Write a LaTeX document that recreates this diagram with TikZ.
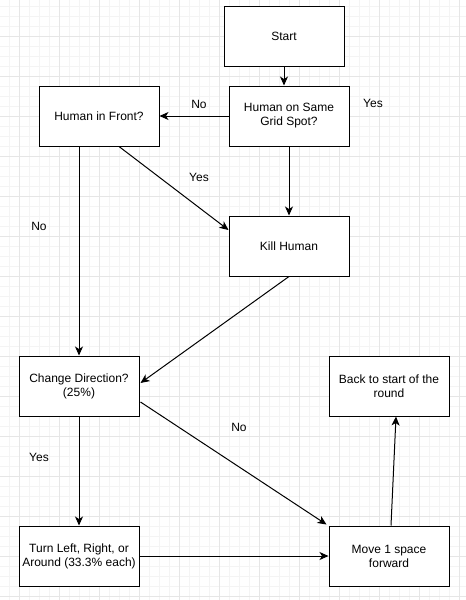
\documentclass[tikz,border=0pt]{standalone}
\usepackage{fontspec}
\setmainfont{Liberation Sans}
\usetikzlibrary{arrows.meta,calc}
\definecolor{gridmajor}{HTML}{E6E6E6}
\definecolor{gridminor}{HTML}{F4F4F4}
\tikzset{
  stepbox/.style={draw=black, line width=1pt, fill=white, minimum width=120pt,
    minimum height=60pt, align=center, inner sep=2pt,
    font=\fontsize{12}{14}\selectfont},
  flow/.style={draw=black, line width=1pt,
    -{Stealth[length=9pt,width=8pt,inset=2.5pt]}},
  lbl/.style={font=\fontsize{12}{14}\selectfont, inner sep=0pt}
}
\begin{document}
\begin{tikzpicture}[x=1pt,y=-1pt]
  \useasboundingbox (0,0) rectangle (466,600);
  \fill[white] (0,0) rectangle (466,600);
  % background grid: fine lines every 10, heavier ones every 40
  \foreach \gx in {-0.5,9.5,...,466} \draw[gridminor, line width=1pt] (\gx,0) -- (\gx,600);
  \foreach \gy in {6,16,...,600} \draw[gridminor, line width=1pt] (0,\gy) -- (466,\gy);
  \foreach \gx in {19.5,59.5,...,466} \draw[gridmajor, line width=1pt] (\gx,0) -- (\gx,600);
  \foreach \gy in {36,76,...,600} \draw[gridmajor, line width=1pt] (0,\gy) -- (466,\gy);

  % steps
  \node[stepbox] (start)  at (284,36)  {Start};
  \node[stepbox] (same)   at (289,116) {Human on Same\\Grid Spot?};
  \node[stepbox] (front)  at (99,116)  {Human in Front?};
  \node[stepbox] (kill)   at (289,246) {Kill Human};
  \node[stepbox] (change) at (79,386)  {Change Direction?\\(25\%)};
  \node[stepbox] (back)   at (389,386) {Back to start of the\\round};
  \node[stepbox] (turn)   at (79,556)  {Turn Left, Right, or\\Around (33.3\% each)};
  \node[stepbox] (move)   at (389,556) {Move 1 space\\forward};

  % connectors
  \draw[flow] (start.south) -- (start.south |- same.north);
  \draw[flow] (same.west) -- (front.east);
  \draw[flow] (front.south -| change.north) -- (change.north);
  \draw[flow] ($(front.south)+(20,0)$) -- ($(kill.west)+(0,-16)$);
  \draw[flow] (same.south) -- (kill.north);
  \draw[flow] (kill.south) -- ($(change.east)+(1,-3)$);
  \draw[flow] ($(change.east)+(1,16)$) -- ($(move.north west)+(-2,-1)$);
  \draw[flow] (change.south) -- (turn.north);
  \draw[flow] (turn.east) -- (move.west);
  \draw[flow] ($(move.north)+(2,0)$) -- ($(back.south)+(7,0)$);

  % branch labels
  \node[lbl] (noA)  at (199,104) {No};
  \node[lbl] (yesA) at (373,103) {Yes};
  \node[lbl] (yesB) at (199,177) {Yes};
  \node[lbl] (noB)  at (39,226)  {No};
  \node[lbl] (noC)  at (239,427) {No};
  \node[lbl] (yesC) at (39,457)  {Yes};
\end{tikzpicture}
\end{document}
